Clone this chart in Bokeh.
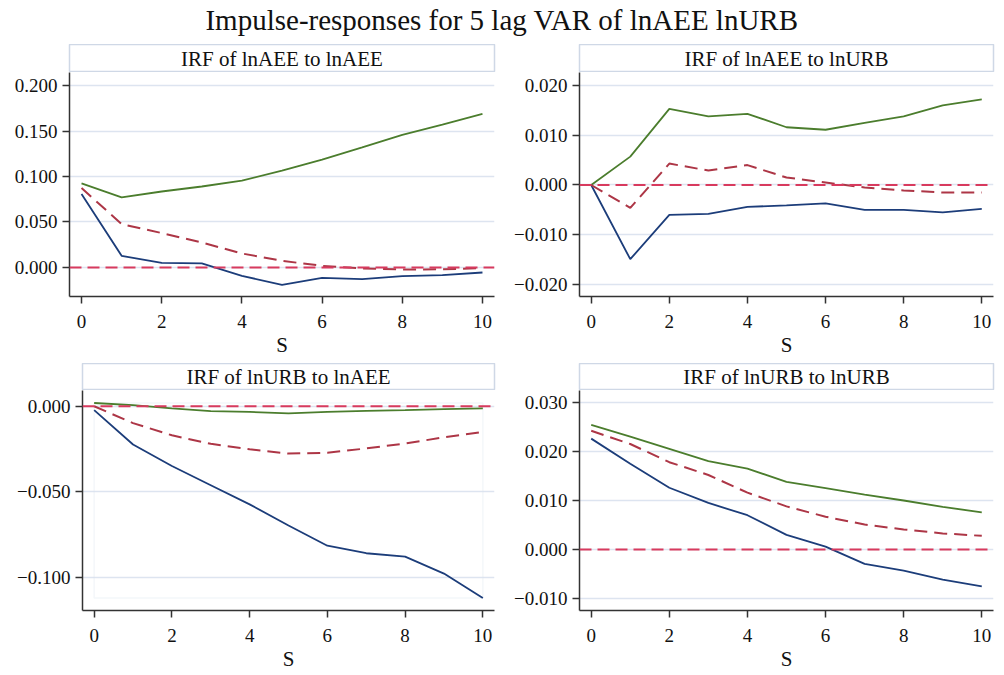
from bokeh.plotting import figure
from bokeh.layouts import column, row
from bokeh.models import Range1d, FixedTicker, Span, Label, BoxAnnotation
from bokeh.embed import file_html
from bokeh.resources import INLINE

# ---------------- data ----------------
main_title = "Impulse-responses for 5 lag VAR of lnAEE lnURB"
x_label = "S"
steps = [0, 1, 2, 3, 4, 5, 6, 7, 8, 9, 10]
x_ticks = [0, 2, 4, 6, 8, 10]

panel_titles = ["IRF of lnAEE to lnAEE", "IRF of lnAEE to lnURB",
                "IRF of lnURB to lnAEE", "IRF of lnURB to lnURB"]

# lnAEE -> lnAEE
aee_aee_hi = [0.0925, 0.0770, 0.0835, 0.0890, 0.0954, 0.1064, 0.1185, 0.1320, 0.1457, 0.1570, 0.1688]
aee_aee_irf = [0.0873, 0.0477, 0.0378, 0.0275, 0.0154, 0.0073, 0.0018, -0.0011, -0.0022, -0.0020, -0.0007]
aee_aee_lo = [0.0807, 0.0128, 0.0051, 0.0044, -0.0092, -0.0191, -0.0114, -0.0128, -0.0095, -0.0084, -0.0055]

# lnAEE -> lnURB
aee_urb_hi = [0.0, 0.0057, 0.0153, 0.0138, 0.0143, 0.0116, 0.0111, 0.0125, 0.0138, 0.0160, 0.0172]
aee_urb_irf = [0.0, -0.0046, 0.0043, 0.0029, 0.0040, 0.0015, 0.0005, -0.0005, -0.0011, -0.0015, -0.0015]
aee_urb_lo = [0.0, -0.0149, -0.0060, -0.0058, -0.0044, -0.0041, -0.0037, -0.0050, -0.0050, -0.0055, -0.0048]

# lnURB -> lnAEE
urb_aee_hi = [0.0019, 0.0006, -0.0013, -0.0029, -0.0033, -0.0042, -0.0033, -0.0027, -0.0023, -0.0017, -0.0013]
urb_aee_irf = [0.0, -0.0099, -0.0170, -0.0220, -0.0252, -0.0277, -0.0272, -0.0247, -0.0218, -0.0182, -0.0151]
urb_aee_lo = [-0.0023, -0.0224, -0.0350, -0.0462, -0.0574, -0.0698, -0.0816, -0.0860, -0.0880, -0.0979, -0.1122]

# lnURB -> lnURB
urb_urb_hi = [0.0254, 0.0230, 0.0205, 0.0180, 0.0165, 0.0138, 0.0125, 0.0112, 0.0100, 0.0087, 0.0076]
urb_urb_irf = [0.0242, 0.0215, 0.0178, 0.0152, 0.0116, 0.0088, 0.0067, 0.0051, 0.0041, 0.0033, 0.0028]
urb_urb_lo = [0.0226, 0.0175, 0.0126, 0.0095, 0.0070, 0.0030, 0.0006, -0.0029, -0.0043, -0.0061, -0.0075]

yticks_1 = [0.0, 0.05, 0.1, 0.15, 0.2]
ylabels_1 = ["0.000", "0.050", "0.100", "0.150", "0.200"]
yticks_2 = [-0.02, -0.01, 0.0, 0.01, 0.02]
ylabels_2 = ["\u22120.020", "\u22120.010", "0.000", "0.010", "0.020"]
yticks_3 = [-0.1, -0.05, 0.0]
ylabels_3 = ["\u22120.100", "\u22120.050", "0.000"]
yticks_4 = [-0.01, 0.0, 0.01, 0.02, 0.03]
ylabels_4 = ["\u22120.010", "0.000", "0.010", "0.020", "0.030"]

# ---------------- style ----------------
FONT = "Liberation Serif"
GREEN = "#4b7d2d"
BLUE = "#1c3d7a"
IRF_RED = "#ad3646"
ZERO_RED = "#d83a5e"
GRID = "#dde4f0"
AXIS = "#333333"
STRIP_LINE = "#cfd8e6"


def strip(text, width, height, left, right):
    s = figure(width=width, height=height, x_range=Range1d(0, 1), y_range=Range1d(0, 1),
               x_axis_type=None, y_axis_type=None, toolbar_location=None, tools="",
               output_backend="svg", min_border_left=left, min_border_right=right,
               min_border_top=0, min_border_bottom=0)
    s.grid.visible = False
    s.outline_line_color = STRIP_LINE
    s.outline_line_width = 1.5
    s.background_fill_color = "white"
    s.border_fill_color = "white"
    s.add_layout(Label(x=0.5, y=0.5, text=text, text_align="center", text_baseline="middle",
                       text_font=FONT, text_font_size="21px", text_color="#111111"))
    return s


def panel(hi, irf, lo, yr, yticks, ylabels, width, height, left, right, bottom, box=False):
    p = figure(width=width, height=height, x_range=Range1d(-0.3, 10.3), y_range=Range1d(*yr),
               toolbar_location=None, tools="", output_backend="svg",
               min_border_left=left, min_border_right=right, min_border_top=0,
               min_border_bottom=bottom)
    p.outline_line_color = None
    p.background_fill_color = "white"
    p.border_fill_color = "white"
    p.xgrid.visible = False
    p.ygrid.grid_line_color = GRID
    p.ygrid.grid_line_width = 1.5
    p.xaxis.ticker = FixedTicker(ticks=x_ticks)
    p.yaxis.ticker = FixedTicker(ticks=yticks)
    p.yaxis.major_label_overrides = dict(zip(yticks, ylabels))
    p.xaxis.axis_label = x_label
    for ax in (p.xaxis, p.yaxis):
        ax.axis_line_color = AXIS
        ax.axis_line_width = 1.5
        ax.major_tick_line_color = AXIS
        ax.major_tick_line_width = 1.5
        ax.major_tick_out = 7
        ax.major_tick_in = 0
        ax.minor_tick_line_color = None
        ax.major_label_text_font = FONT
        ax.major_label_text_font_size = "19px"
        ax.major_label_text_color = "#111111"
    p.yaxis.major_label_standoff = 5
    p.xaxis.major_label_standoff = 11
    p.yaxis.major_label_orientation = "horizontal"
    p.xaxis.axis_label_text_font = FONT
    p.xaxis.axis_label_text_font_size = "21px"
    p.xaxis.axis_label_text_font_style = "normal"
    p.xaxis.axis_label_text_color = "#111111"
    p.xaxis.axis_label_standoff = 2
    if box:
        p.add_layout(BoxAnnotation(left=min(steps), right=max(steps), top=max(hi), bottom=min(lo),
                                   fill_color=None, line_color="#dbe3ee", line_width=1.5,
                                   level="underlay"))
    p.line(steps, hi, line_color=GREEN, line_width=1.8)
    p.line(steps, lo, line_color=BLUE, line_width=1.8)
    p.line(steps, irf, line_color=IRF_RED, line_width=2, line_dash="13 7")
    p.add_layout(Span(location=0, dimension="width", line_color=ZERO_RED, line_width=2,
                      line_dash="12 6"))
    return p


LW, RW = 500, 503
TOP_H, BOT_H = 291, 284

title_fig = figure(width=1003, height=44, x_range=Range1d(0, 1), y_range=Range1d(0, 1),
                   x_axis_type=None, y_axis_type=None, toolbar_location=None, tools="",
                   output_backend="svg", min_border=0)
title_fig.grid.visible = False
title_fig.outline_line_color = None
title_fig.add_layout(Label(x=0.5, y=0.55, text=main_title, text_align="center",
                           text_baseline="middle", text_font=FONT, text_font_size="29px",
                           text_color="#111111"))

s1 = strip(panel_titles[0], LW, 28, 69, 6)
p1 = panel(aee_aee_hi, aee_aee_irf, aee_aee_lo, (-0.0319, 0.2143), yticks_1, ylabels_1,
           LW, TOP_H, 69, 6, 67)
s2 = strip(panel_titles[1], RW, 28, 79, 10)
p2 = panel(aee_urb_hi, aee_urb_irf, aee_urb_lo, (-0.0224, 0.0226), yticks_2, ylabels_2,
           RW, TOP_H, 79, 10, 67)
s3 = strip(panel_titles[2], LW, 27, 82, 6)
p3 = panel(urb_aee_hi, urb_aee_irf, urb_aee_lo, (-0.1195, 0.0092), yticks_3, ylabels_3,
           LW, BOT_H, 80, 5, 64, box=True)
s4 = strip(panel_titles[3], RW, 27, 79, 10)
p4 = panel(urb_urb_hi, urb_urb_irf, urb_urb_lo, (-0.0124, 0.0324), yticks_4, ylabels_4,
           RW, BOT_H, 79, 10, 64)

layout = column(title_fig,
                row(column(s1, p1), column(s2, p2)),
                row(column(s3, p3), column(s4, p4)))

open("out.html", "w").write(file_html(layout, INLINE))
